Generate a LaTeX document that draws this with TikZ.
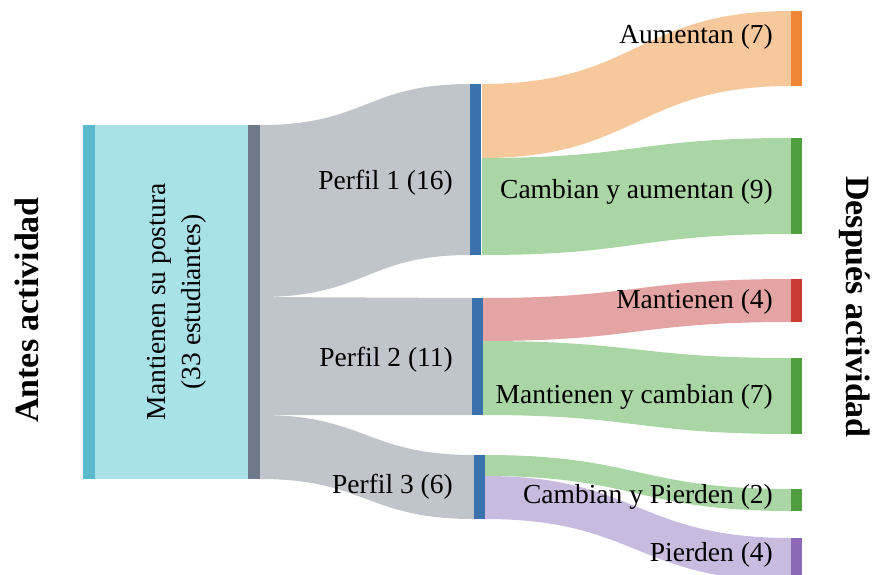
\documentclass[tikz,border=0pt]{standalone}
\usepackage{fontspec}
\setmainfont{Liberation Serif}

\definecolor{cyanbar}{HTML}{5AB9CB}
\definecolor{boxfill}{HTML}{A9E1E9}
\definecolor{graybar}{HTML}{6E7A89}
\definecolor{flowgray}{HTML}{C0C5CB}
\definecolor{bluebar}{HTML}{3A72AE}
\definecolor{orangeflow}{HTML}{F6C89C}
\definecolor{orangebar}{HTML}{EF8635}
\definecolor{greenflow}{HTML}{AAD5A4}
\definecolor{greenbar}{HTML}{4F9E40}
\definecolor{redflow}{HTML}{E4A4A3}
\definecolor{redbar}{HTML}{C93B33}
\definecolor{purpleflow}{HTML}{C9BADF}
\definecolor{purplebar}{HTML}{8D68B7}

\begin{document}
\begin{tikzpicture}[x=1pt,y=-1pt,
	flowlabel/.style={anchor=east,inner sep=0pt,font=\fontsize{27.5}{33}\selectfont},
	sidetitle/.style={inner sep=0pt,font=\fontsize{34}{40}\selectfont\bfseries}]
	\clip (0,0) rectangle (872,575);

	\fill[cyanbar] (83,125) rectangle (95,479);
	\fill[boxfill] (95,125) rectangle (248,479);
	\fill[graybar] (248,125) rectangle (260,479);

	\foreach \ya/\yb/\yc/\yd/\xb in {125/297/84/255/470, 297/415/298/415/472, 415/479/455/519/474}
		\fill[flowgray] (260,\ya) .. controls (366,\ya) and (366,\yc) .. (\xb,\yc)
			-- (\xb,\yd) .. controls (366,\yd) and (366,\yb) .. (260,\yb) -- cycle;

	\foreach \xa/\ya/\yb/\yc/\yd/\col in {
		482/84/158/11/86/orangeflow,
		482/158/255/138/234/greenflow,
		483/298/341/279/322/redflow,
		483/341/415/358/434/greenflow,
		485/455/476/489/511/greenflow,
		485/476/519/538/581/purpleflow}
		\fill[\col] (\xa,\ya) .. controls (637,\ya) and (637,\yc) .. (791,\yc)
			-- (791,\yd) .. controls (637,\yd) and (637,\yb) .. (\xa,\yb) -- cycle;

	\foreach \xa/\ya/\yb in {470/84/255, 472/298/415, 474/455/519}
		\fill[bluebar] (\xa,\ya) rectangle ++(11,\yb-\ya);

	\foreach \ya/\yb/\col in {11/86/orangebar, 138/234/greenbar, 279/322/redbar,
		358/434/greenbar, 489/511/greenbar, 538/581/purplebar}
		\fill[\col] (791,\ya) rectangle (802,\yb);

	\node[rotate=90,align=center,inner sep=0pt,font=\fontsize{27.5}{35}\selectfont]
		(before) at (177,302) {Mantienen su postura\\(33 estudiantes)};

	\foreach \name/\y/\label in {p1/183/Perfil 1 (16), p2/360/Perfil 2 (11), p3/487/Perfil 3 (6)}
		\node[flowlabel] (\name) at (453,\y) {\label};

	\foreach \name/\y/\label in {
		aum/37/Aumentan (7),
		caum/192/Cambian y aumentan (9),
		mant/302/Mantienen (4),
		mcam/397/Mantienen y cambian (7),
		cpie/497/Cambian y Pierden (2),
		pie/555/Pierden (4)}
		\node[flowlabel] (\name) at (773,\y) {\label};

	\node[sidetitle,rotate=90] (antes) at (27,310) {Antes actividad};
	\node[sidetitle,rotate=-90] (despues) at (855,307) {Después actividad};
\end{tikzpicture}
\end{document}
